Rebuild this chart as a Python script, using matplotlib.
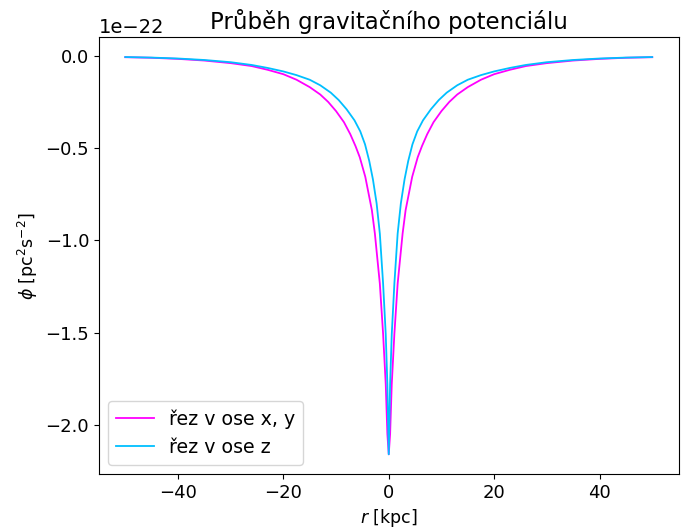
import numpy as np
import matplotlib
matplotlib.use("Agg")
import matplotlib.pyplot as plt

# ---------------------------------------------------------------------------
# Values (r >= 0, curves are symmetric in r)
# phi in units of 1e-22 pc^2 s^-2
# ---------------------------------------------------------------------------
r_xy = [0.0, 0.26, 0.57, 1.07, 1.69, 2.63, 3.2, 4.45, 5.5, 6.3, 7.3, 8.5,
        10.0, 11.5, 13.0, 15.0, 17.5, 20.0, 23.0, 26.0, 30.0, 35.0, 40.0,
        45.0, 50.0]
phi_xy = [-2.16, -2.05, -1.78, -1.507, -1.235, -0.964, -0.837, -0.656,
          -0.55, -0.49, -0.425, -0.36, -0.30, -0.25, -0.21, -0.17, -0.13,
          -0.10, -0.076, -0.056, -0.04, -0.026, -0.017, -0.011, -0.008]

r_z = [0.0, 0.26, 0.57, 1.07, 1.69, 2.3, 3.0, 3.7, 4.5, 5.4, 6.5, 8.0,
       9.5, 11.0, 13.0, 15.0, 17.5, 20.0, 23.0, 26.0, 30.0, 35.0, 40.0,
       45.0, 50.0]
phi_z = [-2.16, -1.78, -1.51, -1.235, -0.964, -0.80, -0.67, -0.57, -0.48,
         -0.41, -0.35, -0.29, -0.24, -0.20, -0.16, -0.13, -0.105, -0.085,
         -0.066, -0.05, -0.035, -0.023, -0.015, -0.01, -0.007]

SCALE = 1e-22
labels = ["řez v ose x, y", "řez v ose z"]


def mirrored(r, phi):
    r = np.asarray(r)
    phi = np.asarray(phi) * SCALE
    return (np.concatenate([-r[:0:-1], r]),
            np.concatenate([phi[:0:-1], phi]))


plt.rcParams["font.size"] = 12.5

fig, ax = plt.subplots(figsize=(6.82, 5.31), dpi=100)
fig.subplots_adjust(left=0.145, right=0.995, bottom=0.107, top=0.93)

x1, y1 = mirrored(r_xy, phi_xy)
x2, y2 = mirrored(r_z, phi_z)
ax.plot(x1, y1, color="magenta", lw=1.3, label=labels[0])
ax.plot(x2, y2, color="deepskyblue", lw=1.3, label=labels[1])

ax.set_title("Průběh gravitačního potenciálu", fontsize=16.5)
ax.set_xlabel(r"$r$ [kpc]")
ax.set_ylabel(r"$\phi$ [pc$^2$s$^{-2}$]")
ax.tick_params(labelsize=13)
ax.yaxis.get_offset_text().set_fontsize(14)
ax.legend(loc="lower left", fontsize=13.7)

fig.savefig("out.png", dpi=100)
